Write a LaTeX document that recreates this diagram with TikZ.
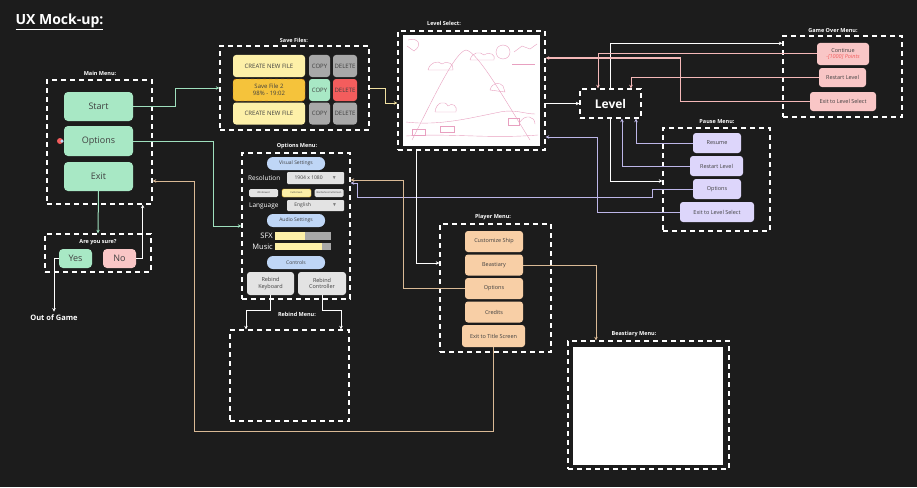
\documentclass[tikz,border=0pt]{standalone}
\usepackage{amssymb}
\usepackage{fontspec}
\setmainfont{Open Sans}
\usetikzlibrary{arrows.meta,calc}
\definecolor{bg}{HTML}{1C1C1C}
\definecolor{mgreen}{HTML}{A8E8C5}
\definecolor{mpink}{HTML}{F9C6C6}
\definecolor{myel}{HTML}{FDF0A8}
\definecolor{mgray}{HTML}{A8A8A8}
\definecolor{morange}{HTML}{F5C33B}
\definecolor{mred}{HTML}{F35D5D}
\definecolor{mtan}{HTML}{F8CFA6}
\definecolor{mlav}{HTML}{DDD6FB}
\definecolor{mblue}{HTML}{BFD6F6}
\definecolor{mlgray}{HTML}{E3E3E3}
\definecolor{lgreen}{HTML}{9FE0BE}
\definecolor{lyel}{HTML}{F0E0A0}
\definecolor{lpink}{HTML}{F4B8B8}
\definecolor{llav}{HTML}{BDB6E8}
\definecolor{ltan}{HTML}{D9B995}
\definecolor{sketch}{HTML}{E8A0C0}
\tikzset{
  dbox/.style={draw=white, line width=1.4pt, dash pattern=on 5pt off 4pt, minimum width=#1, inner sep=0},
  lab/.style={text=white, font=\fontsize{5.5}{6}\selectfont\bfseries},
  btn/.style={rounded corners=3pt, align=center, inner sep=0, text=black!75, font=\fontsize{6}{7}\selectfont},
  big/.style={btn, rounded corners=4pt, font=\fontsize{9}{10}\selectfont},
  con/.style={line width=1pt, -{Stealth[length=3.5pt,width=3.5pt]}},
  tiny/.style={btn, rounded corners=1.5pt, fill=mlgray, font=\fontsize{2.5}{3}\selectfont, minimum width=29pt, minimum height=8pt},
}
\begin{document}
\begin{tikzpicture}[x=1pt,y=-1pt]
\fill[bg] (0,0) rectangle (917,487);
\useasboundingbox (0,0) rectangle (917,487);

\node[anchor=west, text=white, font=\fontsize{14}{15}\selectfont\bfseries] (title) at (12,22) {\underline{UX Mock-up:}};

% Main menu
\node[dbox=105pt, minimum height=124pt] (mm) at (99.5,142) {};
\node[lab] (mml) at (100,73) {Main Menu:};
\node[big, fill=mgreen, minimum width=69pt, minimum height=29pt] (start) at (98.5,106.5) {Start};
\node[big, fill=mgreen, minimum width=69pt, minimum height=30pt] (opt) at (98.5,141) {Options};
\node[big, fill=mgreen, minimum width=69pt, minimum height=29pt] (exit) at (98.5,176.5) {Exit};
\node[circle, fill=mred, inner sep=0, minimum size=6pt] (icon) at (60,141) {};
\node[circle, fill=mblue, inner sep=0, minimum size=3.5pt] (icon2) at (62,141) {};

% Are you sure
\node[dbox=106pt, minimum height=38pt] (sure) at (98,253) {};
\node[lab] (surel) at (98,242) {Are you sure?};
\node[big, fill=mgreen, minimum width=33pt, minimum height=19pt] (yes) at (75.5,258.5) {Yes};
\node[big, fill=mpink, minimum width=33pt, minimum height=19pt] (no) at (119.5,258.5) {No};
\node[text=white, font=\fontsize{7.5}{8}\selectfont\bfseries] (out) at (54,318) {Out of Game};

% Save files
\node[dbox=149pt, minimum height=84pt] (save) at (294.5,88) {};
\node[lab] (savel) at (294,40) {Save Files:};
\node[btn, fill=myel, minimum width=72pt, minimum height=22pt] (c1) at (269,66) {CREATE NEW FILE};
\node[btn, fill=mgray, minimum width=21pt, minimum height=22pt] (cp1) at (319.5,66) {COPY};
\node[btn, fill=mgray, minimum width=24pt, minimum height=22pt] (d1) at (345,66) {DELETE};
\node[btn, fill=morange, draw=orange!80!black, dashed, minimum width=72pt, minimum height=22pt] (sf2) at (269,90) {Save File 2\\98\% - 19:02};
\node[btn, fill=mgreen, minimum width=21pt, minimum height=22pt] (cp2) at (319.5,90) {COPY};
\node[btn, fill=mred, minimum width=24pt, minimum height=22pt] (d2) at (345,90) {DELETE};
\node[btn, fill=myel, minimum width=72pt, minimum height=22pt] (c3) at (269,113.5) {CREATE NEW FILE};
\node[btn, fill=mgray, minimum width=21pt, minimum height=22pt] (cp3) at (319.5,113.5) {COPY};
\node[btn, fill=mgray, minimum width=24pt, minimum height=22pt] (d3) at (345,113.5) {DELETE};

% Level select
\node[dbox=147pt, minimum height=119pt] (ls) at (471.5,90.5) {};
\node[lab] (lsl) at (444,23) {Level Select:};
\node[fill=white, minimum width=137pt, minimum height=111pt, inner sep=0] (img) at (471.5,90.5) {};
\begin{scope}[draw=sketch, line width=0.4pt]
\draw (412,140) .. controls (435,95) and (455,52) .. (466,50) .. controls (478,52) and (505,100) .. (530,140);
\draw (406,122) .. controls (440,126) and (470,118) .. (500,112) .. controls (515,109) and (525,114) .. (535,114);
\draw (406,136) .. controls (450,133) and (490,139) .. (538,135);
\draw (428,70) .. controls (430,62) and (438,60) .. (442,64) .. controls (448,60) and (454,64) .. (453,70) -- (428,70);
\draw (470,60) .. controls (472,52) and (480,51) .. (484,55) .. controls (490,51) and (496,55) .. (494,60) -- (470,60);
\draw (503,52) circle (7);
\draw (512,64) -- (535,64);
\draw (514,52) -- (522,46) -- (530,49) -- (537,44);
\draw (435,112) .. controls (436,102) and (445,100) .. (448,106) .. controls (452,102) and (458,106) .. (456,112) -- (435,112);
\draw (490,90) .. controls (492,82) and (500,82) .. (503,86) -- (505,92) -- (490,90);
\draw (508,118) rectangle (519,125);
\draw (520,122) .. controls (525,114) and (535,116) .. (535,124);
\draw (408,40) .. controls (418,37) and (423,45) .. (414,51) -- (407,46);
\draw (440,126) rectangle (454,132);
\draw (412,129) rectangle (425,135);
\end{scope}

% Level
\node[dbox=61pt, minimum height=29pt, text=white, font=\fontsize{12}{13}\selectfont\bfseries] (level) at (610.5,103.5) {Level};

% Game over
\node[dbox=119pt, minimum height=81pt] (go) at (842.5,76.5) {};
\node[lab] (gol) at (833,31) {Game Over Menu:};
\node[btn, fill=mpink, minimum width=52pt, minimum height=22pt, font=\fontsize{5.5}{6.5}\selectfont] (cont) at (843,54) {Continue\\\textcolor{mred}{\itshape -[1000] Points}};
\node[btn, fill=mpink, minimum width=47pt, minimum height=19pt, font=\fontsize{5.5}{6}\selectfont] (gorest) at (842.5,77.5) {Restart Level};
\node[btn, fill=mpink, minimum width=66pt, minimum height=19pt, font=\fontsize{5.5}{6}\selectfont] (goexit) at (843,101.5) {Exit to Level Select};

% Pause
\node[dbox=107pt, minimum height=103pt] (pause) at (716.5,179.5) {};
\node[lab] (pausel) at (717,122) {Pause Menu:};
\node[btn, fill=mlav, minimum width=48pt, minimum height=20pt, font=\fontsize{5.5}{6}\selectfont] (resume) at (717,143) {Resume};
\node[btn, fill=mlav, minimum width=53pt, minimum height=20pt, font=\fontsize{5.5}{6}\selectfont] (prest) at (716.5,166) {Restart Level};
\node[btn, fill=mlav, minimum width=48pt, minimum height=20pt, font=\fontsize{5.5}{6}\selectfont] (popt) at (717,189) {Options};
\node[btn, fill=mlav, minimum width=74pt, minimum height=20pt, font=\fontsize{5.5}{6}\selectfont] (pexit) at (717,212) {Exit to Level Select};

% Player menu
\node[dbox=111pt, minimum height=128pt] (player) at (495.5,288) {};
\node[lab] (playerl) at (493,217) {Player Menu:};
\node[btn, fill=mtan, minimum width=58pt, minimum height=21pt, font=\fontsize{5.5}{6}\selectfont] (cust) at (494,241.5) {Customize Ship};
\node[btn, fill=mtan, minimum width=58pt, minimum height=21pt, font=\fontsize{5.5}{6}\selectfont] (beast) at (494,265) {Beastiary};
\node[btn, fill=mtan, minimum width=58pt, minimum height=21pt, font=\fontsize{5.5}{6}\selectfont] (plopt) at (494,288.5) {Options};
\node[btn, fill=mtan, minimum width=58pt, minimum height=21pt, font=\fontsize{5.5}{6}\selectfont] (credits) at (494,312) {Credits};
\node[btn, fill=mtan, minimum width=63pt, minimum height=22pt, font=\fontsize{5.5}{6}\selectfont] (exitt) at (493.5,336) {Exit to Title Screen};

% Beastiary menu
\node[dbox=161pt, minimum height=128pt] (bm) at (648.5,405) {};
\node[lab] (bml) at (634,334) {Beastiary Menu:};
\node[fill=white, minimum width=150pt, minimum height=118pt, inner sep=0] (bmimg) at (648,406) {};

% Options menu
\node[dbox=108pt, minimum height=146pt] (optm) at (296,226) {};
\node[lab] (optml) at (297,146) {Options Menu:};
\node[btn, rounded corners=6pt, fill=mblue, minimum width=58pt, minimum height=13pt, font=\fontsize{5}{6}\selectfont] (vis) at (296,163.5) {Visual Settings};
\node[anchor=west, text=white, font=\fontsize{6.5}{7}\selectfont, inner sep=0] (resl) at (248,178) {Resolution};
\node[btn, rounded corners=1pt, fill=mlgray, minimum width=57pt, minimum height=12pt, font=\fontsize{5}{6}\selectfont] (res) at (315.5,178) {1904 x 1080 \hspace{8pt}\textcolor{gray}{$\blacktriangledown$}};
\node[tiny] (win) at (263.5,193) {Windowed};
\node[tiny, fill=myel, draw=morange] (full) at (296.5,193) {Fullscreen};
\node[tiny] (bord) at (329,193) {Borderless Fullscreen};
\node[anchor=west, text=white, font=\fontsize{6.5}{7}\selectfont, inner sep=0] (langl) at (249,205.5) {Language};
\node[btn, rounded corners=1pt, fill=mlgray, minimum width=57pt, minimum height=11pt, font=\fontsize{5}{6}\selectfont] (lang) at (315.5,205.5) {English \hspace{20pt}\textcolor{gray}{$\blacktriangledown$}};
\node[btn, rounded corners=6pt, fill=mblue, minimum width=58pt, minimum height=13pt, font=\fontsize{5}{6}\selectfont] (aud) at (296,220.5) {Audio Settings};
\node[anchor=east, text=white, font=\fontsize{7.5}{8}\selectfont, inner sep=0] (sfxl) at (273,236) {SFX};
\node[fill=mgray, minimum width=56pt, minimum height=8pt, inner sep=0] (sfx) at (303,236) {};
\fill[myel] (sfx.north west) rectangle ([xshift=30pt]sfx.south west);
\node[anchor=east, text=white, font=\fontsize{7.5}{8}\selectfont, inner sep=0] (musl) at (273,246.5) {Music};
\node[fill=mgray, minimum width=56pt, minimum height=7pt, inner sep=0] (mus) at (303,246.5) {};
\fill[myel] (mus.north west) rectangle ([xshift=47pt]mus.south west);
\node[btn, rounded corners=6pt, fill=mblue, minimum width=58pt, minimum height=13pt, font=\fontsize{5}{6}\selectfont] (ctrl) at (296,262.5) {Controls};
\node[btn, fill=mlgray, minimum width=47pt, minimum height=23pt, font=\fontsize{5.5}{6.5}\selectfont] (rk) at (270.5,283.5) {Rebind\\Keyboard};
\node[btn, fill=mlgray, minimum width=48pt, minimum height=23pt, font=\fontsize{5.5}{6.5}\selectfont] (rc) at (322,283.5) {Rebind\\Controller};

% Rebind menu
\node[dbox=119pt, minimum height=91pt] (rb) at (289.5,375.5) {};
\node[lab] (rbl) at (297,314) {Rebind Menu:};

% connectors
\draw[con, lgreen] (start.east) -- (175,106.5) -- (175,88) -- (save.west);
\draw[con, lgreen] (opt.east) -| (213,226) -- (optm.west);
\draw[con, lgreen] (exit.south) -- (sure.north);
\draw[con, white] (no.east) -| ([xshift=-10pt]mm.south east);
\draw[con, white] (yes.west) -| (out.north);
\draw[con, lyel] (save.east) -- (385,88) -- (385,103) -- ([yshift=-12.5pt]ls.west);
\draw[con, white] ([yshift=-13pt]ls.east) -- (level.west);
\draw[con, white] (level.north) |- ([yshift=-8pt]go.north west);
\draw[con, lpink] (cont.west) -| ([xshift=-12.5pt]level.north);
\draw[con, lpink] (gorest.west) -| ([xshift=20.5pt]level.north);
\draw[con, lpink] (goexit.west) -- (680,101.5) -- (680,58) -- ([yshift=32.5pt]ls.east);
\draw[con, white] (level.south) |- ([yshift=-1.5pt]pause.west);
\draw[con, llav] (resume.west) -| ([xshift=25.5pt]level.south);
\draw[con, llav] (prest.west) -| ([xshift=11.5pt]level.south);
\draw[con, llav] (popt.west) -- (652,189) -- (652,197) -- (357,197) -- (357,183) -- ([yshift=43pt]optm.east);
\draw[con, llav] (pexit.west) -| (597,137) -- ([yshift=-46.5pt]ls.east);
\draw[con, white] ([xshift=-55.5pt]ls.south) |- ([yshift=25pt]player.west);
\draw[con, ltan] (beast.east) -| ([xshift=-52.5pt]bm.north);
\draw[con, ltan] (plopt.west) -- (403,288.5) -- (403,180) -- ([yshift=46pt]optm.east);
\draw[con, ltan] (exitt.south) -- (493.5,431) -- (194,431) -- (194,181) -- ([yshift=-39pt]mm.east);
\draw[con, white] (rk.south) -- (270.5,310) -- (246,310) -- ([xshift=-43.5pt]rb.north);
\draw[con, white] (rc.south) -- (322,310) -- (341,310) -- ([xshift=51.5pt]rb.north);
\end{tikzpicture}
\end{document}
